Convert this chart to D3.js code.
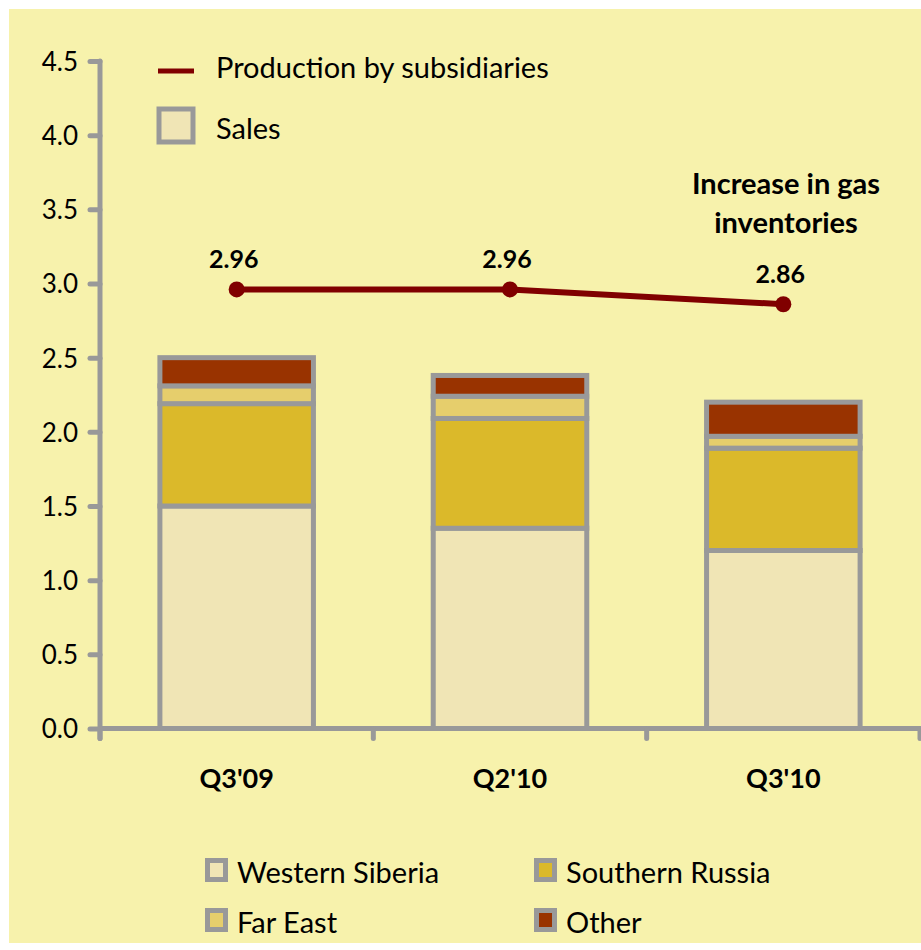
<!DOCTYPE html>
<meta charset="utf-8">
<script src="https://d3js.org/d3.v7.min.js"></script>
<style>
  body { margin: 0; background: #ffffff; }
  text { font-family: Lato, "Open Sans", sans-serif; fill: #000; }
</style>
<div id="chart"></div>
<script>
  // data
  var quarters = ["Q3'09", "Q2'10", "Q3'10"];
  var regions = ["Western Siberia", "Southern Russia", "Far East", "Other"];
  var westernSiberia = [1.50, 1.35, 1.20];
  var southernRussia = [0.69, 0.74, 0.69];
  var farEast = [0.12, 0.15, 0.08];
  var other = [0.19, 0.14, 0.23];
  var production = [2.96, 2.96, 2.86];
  var productionLabels = ["2.96", "2.96", "2.86"];
  var yTicks = [0, 0.5, 1, 1.5, 2, 2.5, 3, 3.5, 4, 4.5];

  var colors = ["#F0E5B5", "#DBB92A", "#E6CE6C", "#993300"];
  var grey = "#999999";

  var W = 921, H = 950;
  var svg = d3.select("#chart").append("svg")
    .attr("width", W)
    .attr("height", H);

  // pale yellow panel
  svg.append("rect")
    .attr("x", 9).attr("y", 9)
    .attr("width", W - 9).attr("height", 934)
    .attr("fill", "#F7F2AC");

  // scales
  var x = d3.scaleBand()
    .domain(quarters)
    .range([100, 920])
    .paddingInner(0.42)
    .paddingOuter(0.21);

  var y = d3.scaleLinear()
    .domain([0, 4.5])
    .range([728.5, 61]);

  // stack the series
  var table = quarters.map(function(q, i) {
    return {
      quarter: q,
      "Western Siberia": westernSiberia[i],
      "Southern Russia": southernRussia[i],
      "Far East": farEast[i],
      "Other": other[i]
    };
  });
  var stacked = d3.stack().keys(regions)(table);

  // bars
  var layers = svg.selectAll("g.layer")
    .data(stacked)
    .enter().append("g")
      .attr("class", "layer")
      .attr("fill", function(d, i) { return colors[i]; });

  layers.selectAll("rect")
    .data(function(d) { return d; })
    .enter().append("rect")
      .attr("x", function(d) { return x(d.data.quarter) + 2.5; })
      .attr("width", x.bandwidth() - 5)
      .attr("y", function(d) { return y(d[1]); })
      .attr("height", function(d) { return y(d[0]) - y(d[1]); })
      .attr("stroke", grey)
      .attr("stroke-width", 5);

  // y axis
  var yAxis = svg.append("g")
    .attr("transform", "translate(100,0)")
    .call(d3.axisLeft(y)
      .tickValues(yTicks)
      .tickFormat(d3.format(".1f"))
      .tickSize(10)
      .tickPadding(12));
  yAxis.select(".domain").remove();
  yAxis.selectAll(".tick line")
    .attr("stroke", grey)
    .attr("stroke-width", 5)
    .attr("stroke-linecap", "round");
  yAxis.selectAll(".tick text")
    .style("font-size", "26px")
    .style("font-family", "Lato, sans-serif")
    .attr("fill", "#000")
    .attr("dy", "0.36em");

  svg.append("line")
    .attr("x1", 100).attr("x2", 100)
    .attr("y1", y(4.5)).attr("y2", y(0) + 10)
    .attr("stroke", grey)
    .attr("stroke-width", 5)
    .attr("stroke-linecap", "round");

  // x axis
  svg.append("line")
    .attr("x1", 100).attr("x2", 921)
    .attr("y1", y(0)).attr("y2", y(0))
    .attr("stroke", grey)
    .attr("stroke-width", 5);

  var bounds = d3.range(quarters.length + 1).map(function(i) {
    return x.range()[0] + i * x.step();
  });
  svg.selectAll("line.xtick")
    .data(bounds)
    .enter().append("line")
      .attr("class", "xtick")
      .attr("x1", function(d) { return d; })
      .attr("x2", function(d) { return d; })
      .attr("y1", y(0))
      .attr("y2", y(0) + 10)
      .attr("stroke", grey)
      .attr("stroke-width", 5)
      .attr("stroke-linecap", "round");

  svg.selectAll("text.xlabel")
    .data(quarters)
    .enter().append("text")
      .attr("class", "xlabel")
      .attr("x", function(d) { return x(d) + x.bandwidth() / 2; })
      .attr("y", 788)
      .attr("text-anchor", "middle")
      .style("font-size", "27px")
      .style("font-weight", "bold")
      .text(function(d) { return d; });

  // production line
  var cx = function(d, i) { return x(quarters[i]) + x.bandwidth() / 2; };
  var line = d3.line()
    .x(cx)
    .y(function(d) { return y(d); });

  svg.append("path")
    .datum(production)
    .attr("d", line)
    .attr("fill", "none")
    .attr("stroke", "#800000")
    .attr("stroke-width", 6);

  svg.selectAll("circle.pt")
    .data(production)
    .enter().append("circle")
      .attr("class", "pt")
      .attr("cx", cx)
      .attr("cy", function(d) { return y(d); })
      .attr("r", 8)
      .attr("fill", "#800000");

  svg.selectAll("text.val")
    .data(production)
    .enter().append("text")
      .attr("class", "val")
      .attr("x", function(d, i) { return cx(d, i) - 3; })
      .attr("y", function(d) { return y(d) - 21; })
      .attr("text-anchor", "middle")
      .style("font-size", "25px")
      .style("font-weight", "bold")
      .text(function(d, i) { return productionLabels[i]; });

  // annotation
  var note = svg.append("text")
    .attr("text-anchor", "middle")
    .style("font-size", "29px")
    .style("font-weight", "bold");
  note.append("tspan").attr("x", 786).attr("y", 194).text("Increase in gas");
  note.append("tspan").attr("x", 786).attr("y", 233).text("inventories");

  // top legend
  svg.append("line")
    .attr("x1", 158).attr("x2", 194)
    .attr("y1", 71).attr("y2", 71)
    .attr("stroke", "#800000")
    .attr("stroke-width", 5);
  svg.append("text")
    .attr("x", 216).attr("y", 78)
    .style("font-size", "29px")
    .text("Production by subsidiaries");

  svg.append("rect")
    .attr("x", 159).attr("y", 109)
    .attr("width", 34).attr("height", 33)
    .attr("fill", colors[0])
    .attr("stroke", grey)
    .attr("stroke-width", 5);
  svg.append("text")
    .attr("x", 216).attr("y", 139)
    .style("font-size", "29px")
    .text("Sales");

  // bottom legend
  var legendPos = [[205, 858], [534, 858], [205, 908], [534, 908]];
  var leg = svg.selectAll("g.leg")
    .data(regions)
    .enter().append("g")
      .attr("class", "leg")
      .attr("transform", function(d, i) {
        return "translate(" + legendPos[i][0] + "," + legendPos[i][1] + ")";
      });
  leg.append("rect")
    .attr("x", 2.5).attr("y", 2.5)
    .attr("width", 18).attr("height", 19)
    .attr("fill", function(d, i) { return colors[i]; })
    .attr("stroke", grey)
    .attr("stroke-width", 5);
  leg.append("text")
    .attr("x", 32).attr("y", 25)
    .style("font-size", "29px")
    .text(function(d) { return d; });
</script>
